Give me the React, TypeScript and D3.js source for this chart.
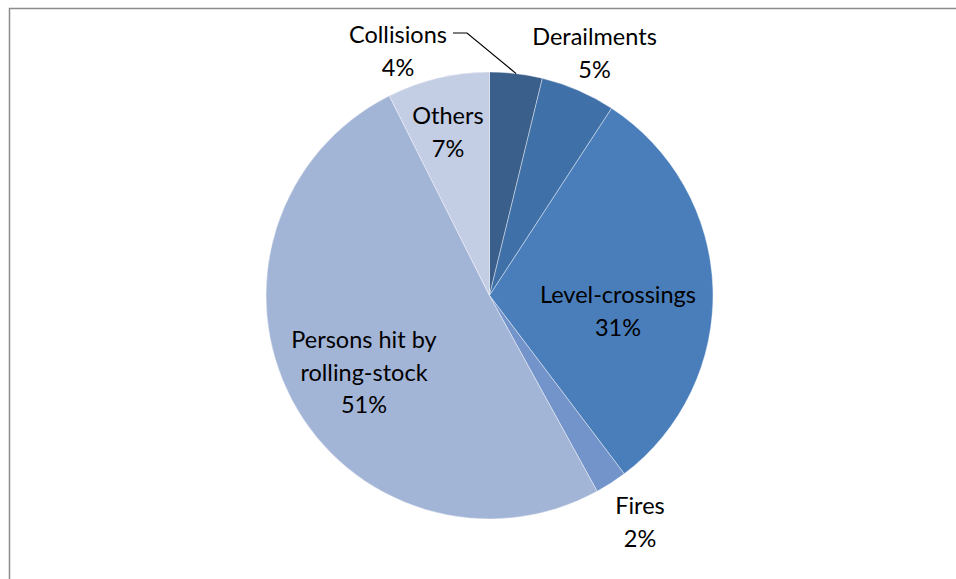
import React from "react";
import * as d3 from "d3";

const categories = ["Collisions", "Derailments", "Level-crossings", "Fires", "Persons hit by rolling-stock", "Others"];
const values = [3.8, 5.4, 30.5, 2.3, 50.6, 7.4];
const percentLabels = ["4%", "5%", "31%", "2%", "51%", "7%"];
const labelLines = [["Collisions"], ["Derailments"], ["Level-crossings"], ["Fires"], ["Persons hit by", "rolling-stock"], ["Others"]];
const colors = ["#3A5F8B", "#4070A8", "#4A7EBB", "#7394CA", "#A3B5D6", "#C3CDE3"];

// label block anchor (center x, first baseline y) relative to pie centre
const labelOffsets: [number, number][] = [
  [-91.5, -252.5],
  [105, -250.5],
  [128.5, 7.5],
  [150.5, 218.5],
  [-125.5, 52.5],
  [-41.5, -171.5],
];

const W = 956;
const H = 579;
const cx = 489.5;
const cy = 295.5;
const R = 223.5;
const LINE = 32.5;

export default function App() {
  const pie = d3.pie<number>().sort(null).value((d) => d)(values);
  const arc = d3.arc<d3.PieArcDatum<number>>().innerRadius(0).outerRadius(R);
  const p0 = pie[0];
  const mid = (p0.startAngle + p0.endAngle) / 2;
  const ex = cx + Math.sin(mid) * R;
  const ey = cy - Math.cos(mid) * R;
  const leader = d3.line()([
    [cx + labelOffsets[0][0] + 55, cy + labelOffsets[0][1] - 10],
    [cx + labelOffsets[0][0] + 69, cy + labelOffsets[0][1] - 10],
    [ex, ey],
  ]);
  return (
    <svg width={W} height={H} style={{ position: "absolute", left: 0, top: 0, background: "#fff" }}>
      <rect x={9.5} y={8.5} width={1100} height={700} fill="#fff" stroke="#8c8c8c" strokeWidth={1.5} />
      <g transform={`translate(${cx},${cy})`}>
        {pie.map((p, i) => (
          <path key={categories[i]} d={arc(p) || ""} fill={colors[i]} stroke="#ffffff" strokeOpacity={0.5} strokeWidth={0.8} />
        ))}
      </g>
      <path d={leader || ""} fill="none" stroke="#000" strokeWidth={1.2} />
      {labelLines.map((lines, i) => {
        const [dx, dy] = labelOffsets[i];
        const all = [...lines, percentLabels[i]];
        return (
          <text key={categories[i]} fontFamily="Lato, 'Open Sans', sans-serif" fontSize={23.5} fill="#000" textAnchor="middle">
            {all.map((t, j) => (
              <tspan key={j} x={cx + dx} y={cy + dy + j * LINE}>
                {t}
              </tspan>
            ))}
          </text>
        );
      })}
    </svg>
  );
}
